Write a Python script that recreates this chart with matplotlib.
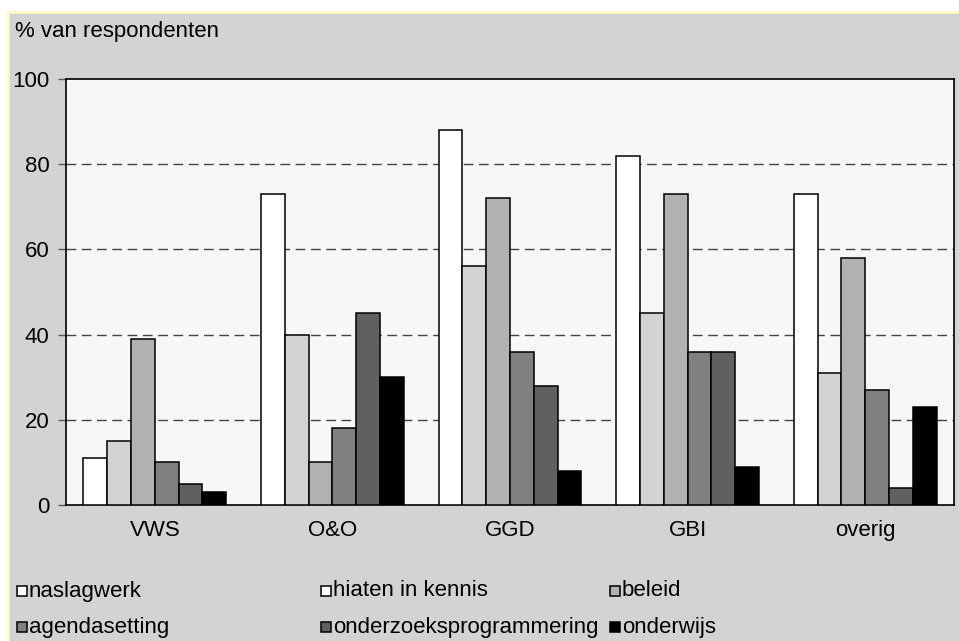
import matplotlib.pyplot as plt
from matplotlib.patches import Rectangle
import numpy as np

plt.rcParams['font.family'] = ['Liberation Sans', 'DejaVu Sans']

# ---- DATA ----
groups = ['VWS', 'O&O', 'GGD', 'GBI', 'overig']
series = ['naslagwerk', 'hiaten in kennis', 'beleid',
          'agendasetting', 'onderzoeksprogrammering', 'onderwijs']
naslagwerk = [11, 73, 88, 82, 73]
hiaten = [15, 40, 56, 45, 31]
beleid = [39, 10, 72, 73, 58]
agendasetting = [10, 18, 36, 36, 27]
onderzoek = [5, 45, 28, 36, 4]
onderwijs = [3, 30, 8, 9, 23]
values = [naslagwerk, hiaten, beleid, agendasetting, onderzoek, onderwijs]

bar_colors = ['#ffffff', '#d3d3d3', '#b2b2b2', '#808080', '#606060', '#000000']
key_colors = ['#ffffff', '#ffffff', '#b2b2b2', '#808080', '#606060', '#000000']

W, H = 959, 641
fig = plt.figure(figsize=(W / 100, H / 100), dpi=100)
fig.patch.set_facecolor('white')

# grey panel behind everything, thin pale yellow rim on top/left
panel = Rectangle((8 / W, -0.01), 1.0, (H - 12) / H + 0.01,
                  transform=fig.transFigure, facecolor='#d3d3d3',
                  edgecolor='#fff8c0', linewidth=2, zorder=-5)
fig.patches.append(panel)

ax = fig.add_axes([66 / W, 1 - 505 / H, (954 - 66) / W, (505 - 79) / H])
ax.set_zorder(2)
ax.set_facecolor('#f7f7f7')

x = np.arange(len(groups))
bw = 0.134
for i, (vals, col) in enumerate(zip(values, bar_colors)):
    ax.bar(x + (i - 2.5) * bw, vals, width=bw, color=col,
           edgecolor='black', linewidth=1.1, zorder=3)

ax.set_xlim(-0.5, len(groups) - 0.5)
ax.set_ylim(0, 100)
ax.set_yticks([0, 20, 40, 60, 80, 100])
ax.set_xticks(x)
ax.set_xticklabels(groups)
ax.tick_params(axis='y', length=6, width=1, color='#555555', pad=6, labelsize=16)
ax.tick_params(axis='x', length=0, pad=11, labelsize=16)

for v in [20, 40, 60, 80]:
    ax.axhline(v, color='#444444', linewidth=1, dashes=(7, 4), zorder=1)

for s in ax.spines.values():
    s.set_linewidth(1.2)
    s.set_color('black')

fig.text(15 / W, 1 - 31 / H, '% van respondenten', fontsize=16,
         ha='left', va='center', zorder=3)

# legend: three columns, two rows
col_x = [17, 321, 610]
row_y = [591, 627]
for i, (name, col) in enumerate(zip(series, key_colors)):
    cx = col_x[i % 3]
    cy = row_y[i // 3]
    fig.patches.append(Rectangle((cx / W, 1 - (cy + 5) / H), 10 / W, 10 / H,
                                 transform=fig.transFigure, facecolor=col,
                                 edgecolor='black', linewidth=1.1, zorder=3))
    fig.text((cx + 12) / W, 1 - cy / H, name, fontsize=16,
             ha='left', va='center', zorder=3)

fig.savefig('out.png', dpi=100)
